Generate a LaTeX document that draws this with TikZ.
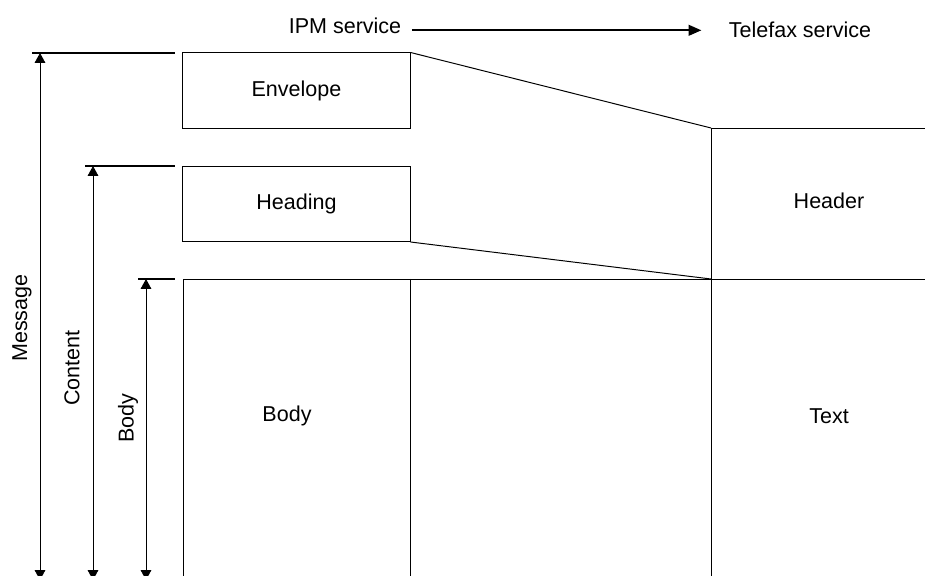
\documentclass[tikz,border=0pt]{standalone}
\usepackage{fontspec}
\setmainfont{Liberation Sans}
\usetikzlibrary{arrows.meta}
\begin{document}
\begin{tikzpicture}[x=0.025cm,y=-0.025cm,
	every node/.style={font=\fontsize{15.3}{18}\selectfont},
	bloc/.style={draw,line width=0.7pt,minimum width=5.675cm,minimum height=1.875cm},
	trait/.style={line width=0.7pt},
	borne/.style={line width=1.5pt},
	fleche/.style={line width=0.6pt,{Triangle[length=7pt,width=7.5pt]}-{Triangle[length=7pt,width=7.5pt]}}]
	\useasboundingbox (0,0) rectangle (925,576);
%					Services :
	\node[anchor=base] (ipm) at (345,34) {IPM service};
	\node[anchor=base] (fax) at (800,38) {Telefax service};
	\draw[line width=1.4pt,-{Triangle[length=9pt,width=7.5pt]},shorten <=4pt,shorten >=16pt]
		(ipm.east |- fax.west) -- (fax.west);
%					Blocs IPM :
	\node[bloc] (env) at (296.5,90.5) {Envelope};
	\node[bloc] (head) at (296.5,204) {Heading};
	\node (body) at (287,416) {Body};
	\draw[trait] (183,576) -- (183,279) -- (925,279);
	\draw[trait] (410,279) -- (410,576);
%					Blocs Telefax :
	\coordinate (hdr) at (711,128);
	\coordinate (txt) at (711,279);
	\draw[trait] (925,128) -- (hdr) -- (711,576);
	\node (header) at (829,201) {Header};
	\node (text) at (829,416) {Text};
	\draw[trait] (env.north east) -- (hdr);
	\draw[trait] (head.south east) -- (txt);
%					Cotes :
	\draw[borne] (32,53) -- (175,53);
	\draw[borne] (85,166) -- (175,166);
	\draw[borne] (138,279) -- (175,279);
	\coordinate (msg-h) at (40,53);
	\coordinate (msg-b) at (40,580);
	\coordinate (cnt-h) at (93,166);
	\coordinate (cnt-b) at (93,580);
	\coordinate (bdy-h) at (146,279);
	\coordinate (bdy-b) at (146,580);
	\draw[fleche] (msg-h) -- (msg-b);
	\draw[fleche] (cnt-h) -- (cnt-b);
	\draw[fleche] (bdy-h) -- (bdy-b);
	\node[rotate=90] (lmsg) at (22,318) {Message};
	\node[rotate=90] (lcnt) at (72,368) {Content};
	\node[rotate=90] (lbdy) at (128,418) {Body};
\end{tikzpicture}
\end{document}
